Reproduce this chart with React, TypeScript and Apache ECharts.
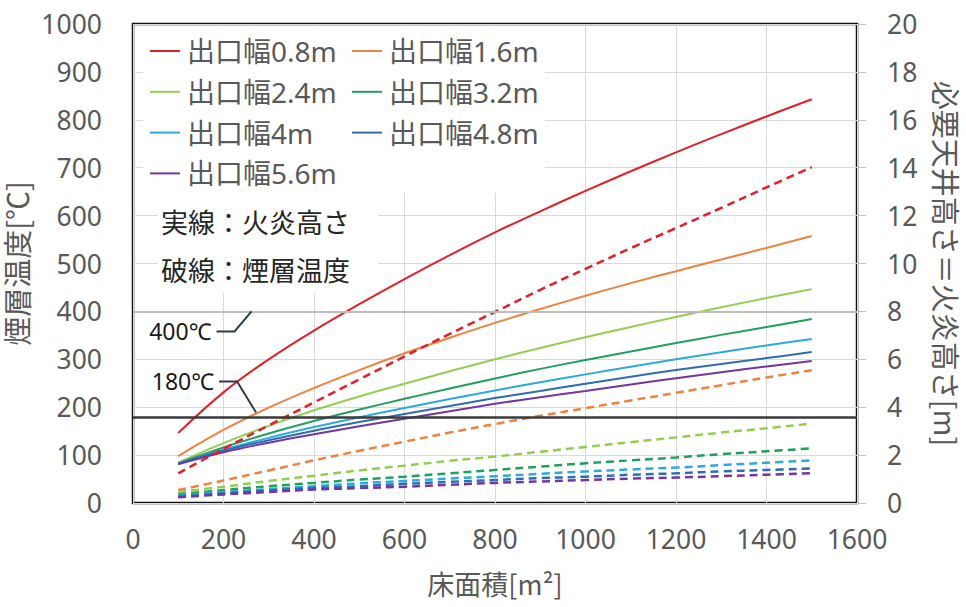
import React, { useEffect, useRef } from "react";
import * as echarts from "echarts";

// floor area [m²]
const areas = [100, 200, 300, 400, 500, 600, 700, 800, 900, 1000, 1100, 1200, 1300, 1400, 1500];

const widthNames = ["出口幅0.8m", "出口幅1.6m", "出口幅2.4m", "出口幅3.2m", "出口幅4m", "出口幅4.8m", "出口幅5.6m"];
const colors = ["#E0202A", "#EE8240", "#92CF50", "#1FA05C", "#2AAAE0", "#2F6CB2", "#7336A0"];

// solid: flame height [m] (right axis)
const flame08 = [2.92, 4.62, 6.0, 7.2, 8.3, 9.35, 10.35, 11.3, 12.18, 13.03, 13.85, 14.64, 15.4, 16.14, 16.86];
const flame16 = [1.96, 3.05, 3.98, 4.8, 5.55, 6.25, 6.9, 7.52, 8.1, 8.65, 9.18, 9.68, 10.17, 10.65, 11.15];
const flame24 = [1.68, 2.5, 3.22, 3.87, 4.45, 4.98, 5.5, 6.0, 6.47, 6.92, 7.35, 7.77, 8.17, 8.56, 8.93];
const flame32 = [1.66, 2.32, 2.9, 3.42, 3.9, 4.35, 4.78, 5.2, 5.6, 5.97, 6.33, 6.68, 7.02, 7.35, 7.68];
const flame40 = [1.65, 2.22, 2.72, 3.17, 3.58, 3.97, 4.34, 4.7, 5.04, 5.37, 5.69, 6.0, 6.29, 6.58, 6.85];
const flame48 = [1.64, 2.18, 2.62, 3.02, 3.38, 3.72, 4.05, 4.38, 4.68, 4.98, 5.27, 5.55, 5.8, 6.05, 6.3];
const flame56 = [1.62, 2.12, 2.52, 2.87, 3.2, 3.52, 3.83, 4.14, 4.42, 4.68, 4.95, 5.21, 5.46, 5.7, 5.93];

// dashed: smoke layer temperature [°C] (left axis)
const temp08 = [62, 113, 162, 210, 258, 306, 353, 399, 445, 489, 532, 574, 616, 659, 701];
const temp16 = [27, 47, 68, 89, 109, 128, 147, 165, 182, 198, 214, 230, 246, 262, 277];
const temp24 = [23, 34, 46, 57, 68, 78, 88, 97, 107, 117, 127, 137, 147, 156, 166];
const temp32 = [18, 27, 35, 42, 49, 55, 62, 69, 76, 83, 89, 95, 102, 108, 114];
const temp40 = [15, 23, 29, 35, 41, 46, 51, 56, 61, 66, 70, 74, 79, 84, 89];
const temp48 = [13, 20, 26, 31, 35, 40, 44, 48, 52, 55, 59, 62, 66, 69, 72];
const temp56 = [12, 18, 23, 28, 31, 34, 38, 42, 45, 48, 51, 53, 56, 59, 62];

const flameHeights = [flame08, flame16, flame24, flame32, flame40, flame48, flame56];
const smokeTemps = [temp08, temp16, temp24, temp32, temp40, temp48, temp56];

const thresholds = [180, 400];
const thresholdLabels = ["180℃", "400℃"];
const thresholdColors = ["#3A3A3A", "#BDBDBD"];
// where the leader lines touch the threshold lines [area, temp]
const leaderTargets = [[272, 189], [262, 400]];
const noteLines = ["実線：火炎高さ", "破線：煙層温度"];

const FONT = "'Noto Sans', 'Noto Sans CJK JP', sans-serif";
const CJK = "'Noto Sans CJK JP', 'Noto Sans', sans-serif";
const GREY = "#595959";

export default function App() {
  const ref = useRef<HTMLDivElement>(null);
  useEffect(() => {
    if (!ref.current) return;
    const chart = echarts.init(ref.current, undefined, { renderer: "svg" });

    const solidSeries = flameHeights.map((arr, i) => ({
      name: widthNames[i],
      type: "line",
      yAxisIndex: 1,
      data: areas.map((a, k) => [a, arr[k]]),
      showSymbol: false,
      symbol: "none",
      smooth: 0.4,
      lineStyle: { color: colors[i], width: 2 },
      itemStyle: { color: colors[i] },
      z: 3,
    }));
    const dashedSeries = smokeTemps.map((arr, i) => ({
      name: "煙層温度 " + widthNames[i],
      type: "line",
      yAxisIndex: 0,
      data: areas.map((a, k) => [a, arr[k]]),
      showSymbol: false,
      symbol: "none",
      smooth: 0.4,
      lineStyle: { color: colors[i], width: 2.5, type: [8, 5] },
      itemStyle: { color: colors[i] },
      z: 3,
      markLine:
        i === 0
          ? {
              silent: true,
              symbol: "none",
              animation: false,
              label: { show: false },
              data: thresholds.map((t, k) => ({
                yAxis: t,
                lineStyle: { color: thresholdColors[k], width: k === 0 ? 2.5 : 2, type: "solid" },
              })),
            }
          : undefined,
    }));

    const legendCommon = {
      orient: "vertical",
      top: 36,
      itemWidth: 30,
      itemHeight: 14,
      itemGap: 10.8,
      padding: 0,
      icon: "path://M0,6 L30,6 L30,8 L0,8 Z",
      textStyle: { fontSize: 28, color: GREY, fontFamily: FONT, lineHeight: 30, padding: [0, 0, 0, 2] },
    };

    const numFmt = (v: number) => String(v);

    chart.setOption({
      animation: false,
      backgroundColor: "#fff",
      grid: {
        left: 133,
        right: 109,
        top: 24,
        bottom: 104,
        containLabel: false,
        outerBoundsMode: "none",
        show: true,
        borderColor: "#111",
        borderWidth: 2.5,
        backgroundColor: "transparent",
      },
      legend: [
        { ...legendCommon, left: 150, data: [widthNames[0], widthNames[2], widthNames[4], widthNames[6]] },
        { ...legendCommon, left: 352, data: [widthNames[1], widthNames[3], widthNames[5]] },
      ],
      xAxis: {
        type: "value",
        min: 0,
        max: 1600,
        interval: 200,
        name: "床面積[m²]",
        nameLocation: "middle",
        nameGap: 67,
        nameTextStyle: { fontSize: 27, color: GREY, fontFamily: CJK },
        axisLine: { show: false },
        axisTick: { show: false },
        axisLabel: { fontSize: 26.5, color: GREY, fontFamily: FONT, margin: 23, formatter: numFmt },
        splitLine: { show: true, lineStyle: { color: "#D9D9D9", width: 1 } },
      },
      yAxis: [
        {
          type: "value",
          position: "left",
          min: 0,
          max: 1000,
          interval: 100,
          name: "煙層温度[℃]",
          nameLocation: "middle",
          nameGap: 86,
          nameTextStyle: { fontSize: 29, color: GREY, fontFamily: CJK },
          axisLine: { show: false },
          axisTick: { show: false },
          axisLabel: { fontSize: 26.5, color: GREY, fontFamily: FONT, margin: 31, formatter: numFmt },
          splitLine: { show: true, lineStyle: { color: "#D9D9D9", width: 1 } },
        },
        {
          type: "value",
          position: "right",
          min: 0,
          max: 20,
          interval: 2,
          name: "必要天井高さ＝火炎高さ[m]",
          nameLocation: "middle",
          nameRotate: -90,
          nameGap: 75,
          nameTextStyle: { fontSize: 29, color: GREY, fontFamily: CJK },
          axisLine: { show: false },
          axisTick: { show: true, inside: false, length: 9, lineStyle: { color: "#BFBFBF", width: 1 } },
          axisLabel: { fontSize: 26.5, color: GREY, fontFamily: FONT, margin: 30, formatter: numFmt },
          splitLine: { show: false },
        },
      ],
      series: [...solidSeries, ...dashedSeries],
    });

    const toPx = (p: number[]) => chart.convertToPixel({ xAxisIndex: 0, yAxisIndex: 0 }, p) as number[];
    const elbowOffsets = [[-19, -31], [-17, 20]];
    const graphics: any[] = [
      { type: "rect", shape: { x: 143, y: 26, width: 402, height: 167 }, style: { fill: "#fff" }, z: 1, silent: true },
      { type: "rect", shape: { x: 158, y: 193, width: 220, height: 100 }, style: { fill: "#fff" }, z: 1, silent: true },
    ];
    noteLines.forEach((t, k) => {
      graphics.push({
        type: "text",
        x: 161,
        y: 221 + k * 48,
        z: 6,
        style: { text: t, fontSize: 27, fill: "#262626", fontFamily: CJK, textVerticalAlign: "middle", verticalAlign: "middle" },
      });
    });
    leaderTargets.forEach((tg, k) => {
      const p = toPx(tg);
      const ex = p[0] + elbowOffsets[k][0];
      const ey = p[1] + elbowOffsets[k][1];
      graphics.push({
        type: "polyline",
        z: 6,
        shape: { points: [[ex - 18, ey], [ex, ey], [p[0], p[1]]] },
        style: { stroke: "#2E3C4E", lineWidth: 2, fill: null },
      });
      graphics.push({
        type: "text",
        x: ex - 23,
        y: ey,
        z: 6,
        style: {
          text: thresholdLabels[k],
          fontSize: 23,
          fill: "#1A1A1A",
          fontFamily: FONT,
          align: "right",
          textAlign: "right",
          verticalAlign: "middle",
          textVerticalAlign: "middle",
        },
      });
    });
    chart.setOption({ graphic: graphics });

    return () => chart.dispose();
  }, []);
  return <div ref={ref} style={{ position: "fixed", left: 0, top: 0, width: 966, height: 607 }} />;
}
